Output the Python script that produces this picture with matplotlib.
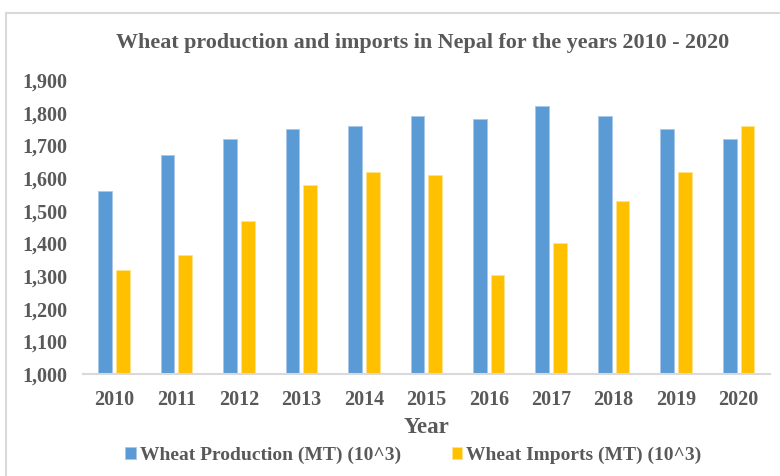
import numpy as np
import matplotlib.pyplot as plt
from matplotlib.lines import Line2D

years = ["2010", "2011", "2012", "2013", "2014", "2015", "2016", "2017", "2018", "2019", "2020"]
production = [1560, 1670, 1720, 1750, 1760, 1790, 1780, 1820, 1790, 1750, 1720]
imports = [1320, 1365, 1470, 1580, 1620, 1610, 1305, 1400, 1530, 1620, 1760]
yticks = [1000, 1100, 1200, 1300, 1400, 1500, 1600, 1700, 1800, 1900]

plt.rcParams['font.family'] = ['Liberation Serif', 'DejaVu Serif']
plt.rcParams['font.weight'] = 'bold'
txt = '#595959'

fig = plt.figure(figsize=(7.8, 4.76), dpi=100)
ax = fig.add_axes([0.106, 0.2137, 0.881, 0.6183])

x = np.arange(len(years))
w = 0.22
ax.bar(x - 0.142, production, w, color='#5B9BD5', edgecolor='#A9C8EA', linewidth=0.6,
       label='Wheat Production (MT) (10^3)')
ax.bar(x + 0.142, imports, w, color='#FFC000', edgecolor='#FFE38A', linewidth=0.6,
       label='Wheat Imports (MT) (10^3)')

ax.set_xlim(-0.5, len(years) - 0.5)
ax.set_ylim(1000, 1900)
ax.set_yticks(yticks)
ax.set_yticklabels([f"{v:,}" for v in yticks])
ax.set_xticks(x)
ax.set_xticklabels(years)
ax.tick_params(length=0, labelsize=14.5, colors=txt)
ax.tick_params(axis='x', pad=11)
ax.tick_params(axis='y', pad=11)
for s in ['top', 'right', 'left']:
    ax.spines[s].set_visible(False)
ax.spines['bottom'].set_color('#D9D9D9')
ax.spines['bottom'].set_linewidth(1.5)

ax.set_xlabel('Year', fontsize=16.5, color=txt, fontweight='bold', labelpad=5)
fig.text(0.542, 0.909, 'Wheat production and imports in Nepal for the years 2010 - 2020',
         ha='center', va='center', fontsize=15.8, color=txt, fontweight='bold')

leg = fig.legend(loc='center', bbox_to_anchor=(0.53, 0.043), ncol=2, frameon=False,
                 fontsize=14, handlelength=0.55, handleheight=0.55, handletextpad=0.2,
                 columnspacing=2.6, borderpad=0)
for t in leg.get_texts():
    t.set_color(txt)

# chart frame (left and top edges visible)
bx, by = 5.5 / 780, 1 - 12.5 / 476
fig.lines.append(Line2D([bx, bx], [0, by], transform=fig.transFigure, color='#D9D9D9', lw=1.5))
fig.lines.append(Line2D([bx, 1], [by, by], transform=fig.transFigure, color='#D9D9D9', lw=1.5))

fig.savefig('out.png', dpi=100)
